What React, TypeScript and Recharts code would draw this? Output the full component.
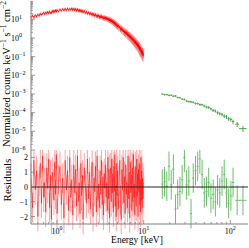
import { ComposedChart, ErrorBar, Line, ReferenceLine, Scatter, XAxis, YAxis } from 'recharts'

const frameColor = '#808080'
const font = '"Liberation Serif", "DejaVu Serif", serif'

// soft band: channel energies (keV), flux, relative errors, residuals
const redEnergy = [
  0.50, 0.52, 0.54, 0.56, 0.58, 0.60, 0.62, 0.64, 0.66, 0.68,
  0.70, 0.72, 0.74, 0.76, 0.78, 0.80, 0.82, 0.84, 0.86, 0.88,
  0.90, 0.92, 0.94, 0.96, 0.98, 1.00, 1.04, 1.08, 1.12, 1.16,
  1.20, 1.24, 1.28, 1.32, 1.36, 1.40, 1.44, 1.48, 1.52, 1.56,
  1.60, 1.64, 1.68, 1.72, 1.76, 1.80, 1.84, 1.88, 1.92, 1.96,
  2.00, 2.06, 2.12, 2.18, 2.24, 2.30, 2.36, 2.42, 2.48, 2.54,
  2.60, 2.66, 2.72, 2.78, 2.84, 2.90, 2.96, 3.02, 3.08, 3.14,
  3.20, 3.26, 3.32, 3.38, 3.44, 3.50, 3.56, 3.62, 3.68, 3.74,
  3.80, 3.86, 3.92, 3.98, 4.04, 4.10, 4.16, 4.22, 4.28, 4.34,
  4.40, 4.46, 4.52, 4.58, 4.64, 4.70, 4.76, 4.82, 4.88, 4.94,
  5.0, 5.1, 5.2, 5.3, 5.4, 5.5, 5.6, 5.7, 5.8, 5.9,
  6.0, 6.1, 6.2, 6.3, 6.4, 6.5, 6.6, 6.7, 6.8, 6.9,
  7.0, 7.1, 7.2, 7.3, 7.4, 7.5, 7.6, 7.7, 7.8, 7.9,
  8.0, 8.1, 8.2, 8.3, 8.4, 8.5, 8.6, 8.7, 8.8, 8.9,
  9.0, 9.1, 9.2, 9.3, 9.4, 9.5, 9.6, 9.7, 9.8, 9.9,
]
const redFlux = [
  12.5, 15.8, 12.6, 16.9, 13.9, 18.4, 15.2, 20.3, 16.6, 19.8,
  22.9, 18.4, 24.1, 19.5, 25.6, 20.3, 26.4, 22.1, 21.2, 28.9,
  23.1, 30.0, 23.9, 31.5, 24.6, 32.4, 25.8, 34.8, 27.4, 36.0,
  28.5, 37.6, 29.4, 38.9, 29.8, 38.1, 31.2, 39.5, 29.7, 38.4,
  29.1, 37.1, 27.8, 35.9, 26.7, 33.8, 25.4, 32.3, 24.2, 30.2,
  22.6, 28.4, 20.7, 26.0, 19.2, 24.5, 18.1, 22.7, 16.9, 21.3,
  15.5, 20.1, 14.7, 18.7, 14.1, 17.5, 12.9, 16.7, 12.2, 15.9,
  11.6, 15.2, 11.2, 14.3, 10.6, 13.8, 10.1, 13.1, 9.5, 12.4,
  9.2, 12.0, 8.7, 11.1, 8.1, 10.5, 7.4, 9.6, 6.9, 8.7,
  6.3, 8.1, 5.8, 7.4, 5.2, 6.7, 4.7, 6.0, 4.2, 5.4,
  3.8, 4.8, 3.3, 4.2, 2.8, 3.6, 2.4, 3.1, 2.1, 2.8,
  1.8, 2.45, 1.6, 2.15, 1.4, 1.88, 1.22, 1.66, 1.07, 1.48,
  0.95, 1.28, 0.84, 1.13, 0.74, 1.0, 0.65, 0.88, 0.56, 0.77,
  0.49, 0.68, 0.43, 0.59, 0.37, 0.51, 0.32, 0.44, 0.27, 0.38,
  0.22, 0.32, 0.19, 0.27, 0.16, 0.22, 0.13, 0.19, 0.11, 0.16,
]
const redRelErr = [
  0.16, 0.15, 0.16, 0.15, 0.15, 0.14, 0.15, 0.14, 0.14, 0.14,
  0.14, 0.14, 0.13, 0.14, 0.13, 0.13, 0.13, 0.13, 0.13, 0.13,
  0.13, 0.12, 0.13, 0.12, 0.12, 0.12, 0.12, 0.12, 0.12, 0.12,
  0.12, 0.12, 0.12, 0.12, 0.12, 0.12, 0.12, 0.12, 0.12, 0.12,
  0.12, 0.12, 0.13, 0.13, 0.13, 0.13, 0.13, 0.13, 0.13, 0.13,
  0.13, 0.13, 0.14, 0.14, 0.14, 0.14, 0.14, 0.14, 0.15, 0.15,
  0.15, 0.15, 0.15, 0.16, 0.16, 0.16, 0.16, 0.17, 0.17, 0.17,
  0.17, 0.18, 0.18, 0.18, 0.18, 0.19, 0.19, 0.19, 0.2, 0.2,
  0.2, 0.2, 0.21, 0.21, 0.21, 0.22, 0.22, 0.22, 0.23, 0.23,
  0.23, 0.24, 0.24, 0.24, 0.25, 0.25, 0.25, 0.26, 0.26, 0.26,
  0.27, 0.27, 0.28, 0.28, 0.29, 0.29, 0.3, 0.3, 0.31, 0.31,
  0.32, 0.32, 0.33, 0.33, 0.34, 0.34, 0.35, 0.35, 0.36, 0.36,
  0.37, 0.37, 0.38, 0.38, 0.39, 0.39, 0.4, 0.4, 0.41, 0.41,
  0.42, 0.42, 0.43, 0.43, 0.44, 0.44, 0.45, 0.45, 0.46, 0.46,
  0.47, 0.47, 0.48, 0.48, 0.49, 0.49, 0.5, 0.5, 0.5, 0.5,
]
const redResid = [
  0.6, -1.4, 1.8, -0.2, 1.1, -2.0, 0.4, 1.6, -1.1, 2.1,
  -0.7, 0.3, -1.7, 1.3, -0.1, 1.9, -1.4, 0.8, -2.2, 1.0,
  0.2, -0.9, 1.7, -0.5, 2.2, -1.8, 0.5, 1.4, -1.2, 0.6,
  -2.1, 1.8, -0.2, 1.1, -1.6, 2.0, -0.7, 0.5, -1.9, 1.5,
  -0.4, 1.2, -1.3, 2.1, -1.0, 0.3, -1.8, 1.6, -0.6, 0.8,
  -2.2, 1.3, 0.1, -1.1, 1.9, -0.8, 1.0, -1.5, 0.4, 1.7,
  -2.0, 0.6, -0.3, 1.4, -1.7, 2.1, -0.9, 0.2, -1.4, 1.1,
  -0.5, 1.8, -1.2, 0.7, -1.9, 0.9, -0.1, 1.5, -0.7, 0.3,
  -1.6, 2.0, -0.8, 1.2, -2.1, 0.5, 1.3, -1.0, 1.9, -0.4,
  0.9, -1.7, 1.4, -0.3, 2.2, -1.3, 0.1, -2.0, 1.6, -0.6,
  1.1, -1.5, 0.4, 1.8, -0.9, -2.2, 1.2, -0.2, 2.0, -1.1,
  0.7, -1.8, 1.5, -0.5, 0.3, -1.4, 2.1, -0.8, 1.0, -2.1,
  1.7, -0.4, 0.8, -1.6, 1.3, -1.0, 2.2, -0.7, 0.2, -1.9,
  1.4, -0.1, -1.3, 1.9, -0.6, 0.9, -2.0, 1.2, -0.3, 1.6,
  -1.2, 0.5, -1.7, 2.0, -0.9, 1.1, -1.4, 0.6, -0.8, 0.3,
]

// hard band
const greenEnergy = [
  16.4, 17.4, 18.5, 19.6, 20.8, 22.0, 23.3, 24.7, 26.2, 27.8,
  29.5, 31.3, 33.2, 35.2, 37.3, 39.6, 42.0, 44.5, 47.2, 50.1,
  53.1, 56.3, 59.7, 63.4, 67.2, 71.3, 75.6, 80.2, 85.0, 90.2,
  95.6, 101.5, 107.6, 120, 140,
]
const greenHalfWidth = [
  0.5, 0.5, 0.55, 0.6, 0.6, 0.65, 0.7, 0.7, 0.75, 0.8,
  0.85, 0.9, 0.95, 1.0, 1.05, 1.15, 1.2, 1.3, 1.35, 1.45,
  1.5, 1.6, 1.7, 1.85, 1.9, 2.05, 2.15, 2.3, 2.4, 2.6,
  2.7, 2.9, 3.1, 6, 14,
]
const greenFlux = [
  9.8e-4, 9.1e-4, 9.2e-4, 8.4e-4, 8.6e-4, 7.6e-4, 7.8e-4, 6.5e-4, 6.3e-4, 5.3e-4,
  5.1e-4, 4.2e-4, 3.9e-4, 3.8e-4, 3.6e-4, 3.1e-4, 3.05e-4, 2.7e-4, 2.65e-4, 2.3e-4,
  2.0e-4, 1.9e-4, 1.6e-4, 1.33e-4, 1.24e-4, 1.0e-4, 8.8e-5, 8.1e-5, 6.6e-5, 6.0e-5,
  4.8e-5, 4.3e-5, 3.3e-5, 2.4e-5, 1.4e-5,
]
const greenRelErr = [
  0.08, 0.08, 0.08, 0.09, 0.09, 0.09, 0.1, 0.1, 0.1, 0.1,
  0.11, 0.11, 0.12, 0.12, 0.12, 0.13, 0.13, 0.14, 0.14, 0.15,
  0.15, 0.16, 0.17, 0.18, 0.18, 0.19, 0.2, 0.21, 0.22, 0.23,
  0.24, 0.26, 0.28, 0.3, 0.35,
]
const greenResid = [
  0.2, 0.35, 0.05, 1.4, 0.15, 1.2, -1.5, -0.5, -0.3, 0.5,
  2.0, 0.15, 0.4, -1.8, 0.6, 1.1, 1.4, 1.9, 0.85, -0.4,
  -0.3, 0.3, -0.75, -0.5, -1.0, -0.2, -0.4, 0.4, 0.85, -0.4,
  -1.1, -0.6, 0.3, -0.9, -0.9,
]

const energyTicks = [0.6, 0.7, 0.8, 0.9, 1, 2, 3, 4, 5, 6, 7, 8, 9, 10, 20, 30, 40, 50, 60, 70, 80, 90, 100]
const fluxDecades = [-6, -5, -4, -3, -2, -1, 0, 1]
const minorSteps = [1, 2, 3, 4, 5, 6, 7, 8, 9]
const residTicks = [-2, -1, 0, 1, 2]

const fluxTicks = fluxDecades.flatMap((d) => minorSteps.map((s) => s * 10 ** d)).filter((v) => v <= 95)

const redRows = redEnergy.map((e, i) => ({
  e,
  flux: redFlux[i],
  fluxErr: [redFlux[i] * redRelErr[i], redFlux[i] * redRelErr[i]],
  resid: redResid[i],
  residErr: 1,
}))
const greenRows = greenEnergy.map((e, i) => ({
  e,
  eErr: greenHalfWidth[i],
  flux: greenFlux[i],
  fluxErr: [greenFlux[i] * greenRelErr[i], greenFlux[i] * greenRelErr[i]],
  resid: greenResid[i],
  residErr: 1,
}))

const isDecade = (v: number) => Math.abs(Math.log10(v) - Math.round(Math.log10(v))) < 1e-6
const expText = (v: number) => {
  const n = Math.round(Math.log10(v))
  return n < 0 ? `−${-n}` : `${n}`
}

function energyTick(side: 'top' | 'bottom', withLabel: boolean) {
  return (props: any) => {
    const { x, y, payload } = props
    const major = isDecade(payload.value)
    const dir = side === 'bottom' ? -1 : 1
    return (
      <g>
        <line x1={x} x2={x} y1={y} y2={y + dir * (major ? 4 : 2)} stroke={frameColor} strokeWidth={0.8} />
        {withLabel && major && (
          <text x={x} y={y + 10} textAnchor="middle" fontSize={8} fontFamily={font} fill="#000">
            10<tspan dy={-4} fontSize={6}>{expText(payload.value)}</tspan>
          </text>
        )}
      </g>
    )
  }
}

function fluxTick(side: 'left' | 'right') {
  return (props: any) => {
    const { x, y, payload } = props
    const major = isDecade(payload.value)
    const dir = side === 'left' ? 1 : -1
    return (
      <g>
        <line x1={x} x2={x + dir * (major ? 4 : 2)} y1={y} y2={y} stroke={frameColor} strokeWidth={0.8} />
        {side === 'left' && major && (
          <text x={11} y={y + 3} textAnchor="start" fontSize={8} fontFamily={font} fill="#000">
            10<tspan dy={-3.5} fontSize={6}>{expText(payload.value)}</tspan>
          </text>
        )}
      </g>
    )
  }
}

function residTick(side: 'left' | 'right') {
  return (props: any) => {
    const { x, y, payload } = props
    const dir = side === 'left' ? 1 : -1
    const v = payload.value as number
    return (
      <g>
        <line x1={x} x2={x + dir * 4} y1={y} y2={y} stroke={frameColor} strokeWidth={0.8} />
        {side === 'left' && (
          <text x={x - 3} y={y + 3} textAnchor="end" fontSize={8} fontFamily={font} fill="#000">
            {v < 0 ? `−${-v}` : v}
          </text>
        )}
      </g>
    )
  }
}

const noShape = () => <g />

function energyAxes(withLabels: boolean, bottomHeight: number) {
  return [
    <XAxis key="xb" dataKey="e" type="number" scale="log" domain={[0.5, 160]} allowDataOverflow ticks={energyTicks}
      interval={0} height={bottomHeight} tickSize={0} tickMargin={0} tickLine={false} stroke={frameColor}
      tick={energyTick('bottom', withLabels)} />,
    <XAxis key="xt" xAxisId="top" orientation="top" dataKey="e" type="number" scale="log" domain={[0.5, 160]}
      allowDataOverflow ticks={energyTicks} interval={0} height={0} tickSize={0} tickMargin={0} tickLine={false}
      stroke={frameColor} tick={energyTick('top', false)} />,
  ]
}

export default function App() {
  return (
    <div style={{ position: 'absolute', left: 0, top: 0, width: 249, height: 248, background: '#fff' }}>
      <div style={{ position: 'absolute', left: 0, top: 0 }}>
        <ComposedChart width={249} height={160} margin={{ top: 1, right: 1, bottom: 10, left: 0 }}>
          {energyAxes(false, 0)}
          <YAxis type="number" scale="log" domain={[1e-6, 95]} allowDataOverflow ticks={fluxTicks} interval={0}
            width={31} tickSize={0} tickMargin={0} tickLine={false} stroke={frameColor} tick={fluxTick('left')} />
          <YAxis yAxisId="right" orientation="right" type="number" scale="log" domain={[1e-6, 95]} allowDataOverflow
            ticks={fluxTicks} interval={0} width={0} tickSize={0} tickMargin={0} tickLine={false} stroke={frameColor}
            tick={fluxTick('right')} />
          <Line data={redRows} dataKey="flux" stroke="#ff0000" strokeWidth={0.9} dot={false} isAnimationActive={false}>
            <ErrorBar dataKey="fluxErr" direction="y" width={0} stroke="#ff6a6a" strokeWidth={1} isAnimationActive={false} />
          </Line>
          <Scatter data={greenRows} dataKey="flux" shape={noShape} isAnimationActive={false}>
            <ErrorBar dataKey="eErr" direction="x" width={0} stroke="#4aa84a" strokeWidth={1} isAnimationActive={false} />
            <ErrorBar dataKey="fluxErr" direction="y" width={0} stroke="#4aa84a" strokeWidth={1} isAnimationActive={false} />
          </Scatter>
        </ComposedChart>
      </div>
      <div style={{ position: 'absolute', left: 0, top: 150 }}>
        <ComposedChart width={249} height={98} margin={{ top: 0, right: 1, bottom: 0, left: 0 }}>
          {energyAxes(true, 24)}
          <YAxis type="number" domain={[-2.5, 2.5]} allowDataOverflow ticks={residTicks} interval={0}
            width={31} tickSize={0} tickMargin={0} tickLine={false} stroke={frameColor} tick={residTick('left')} />
          <YAxis yAxisId="right" orientation="right" type="number" domain={[-2.5, 2.5]} allowDataOverflow
            ticks={residTicks} interval={0} width={0} tickSize={0} tickMargin={0} tickLine={false} stroke={frameColor}
            tick={residTick('right')} />
          <Line data={redRows} dataKey="resid" stroke="#ff0000" strokeOpacity={0.7} strokeWidth={0.7} dot={false}
            isAnimationActive={false}>
            <ErrorBar dataKey="residErr" direction="y" width={0} stroke="#ffa0a0" strokeWidth={1} isAnimationActive={false} />
          </Line>
          <Scatter data={greenRows} dataKey="resid" shape={noShape} isAnimationActive={false}>
            <ErrorBar dataKey="eErr" direction="x" width={0} stroke="#6bbd6b" strokeWidth={1} isAnimationActive={false} />
            <ErrorBar dataKey="residErr" direction="y" width={0} stroke="#6bbd6b" strokeWidth={1} isAnimationActive={false} />
          </Scatter>
          <ReferenceLine y={0} stroke="#222" strokeWidth={1} />
        </ComposedChart>
      </div>
      <svg width={249} height={248} style={{ position: 'absolute', left: 0, top: 0, pointerEvents: 'none' }}>
        <text transform="translate(10,74) rotate(-90)" textAnchor="middle" fontSize={10.5} fontFamily={font} fill="#000">
          Normalized counts keV<tspan dy={-4} fontSize={7.5}>−1</tspan>
          <tspan dy={4}> s</tspan><tspan dy={-4} fontSize={7.5}>−1</tspan>
          <tspan dy={4}> cm</tspan><tspan dy={-4} fontSize={7.5}>−2</tspan>
        </text>
        <text transform="translate(10.5,180) rotate(-90)" textAnchor="middle" fontSize={11} fontFamily={font} fill="#000">
          Residuals
        </text>
        <text x={137} y={243} textAnchor="middle" fontSize={9.5} fontFamily={font} fill="#000">
          Energy [keV]
        </text>
      </svg>
    </div>
  )
}
